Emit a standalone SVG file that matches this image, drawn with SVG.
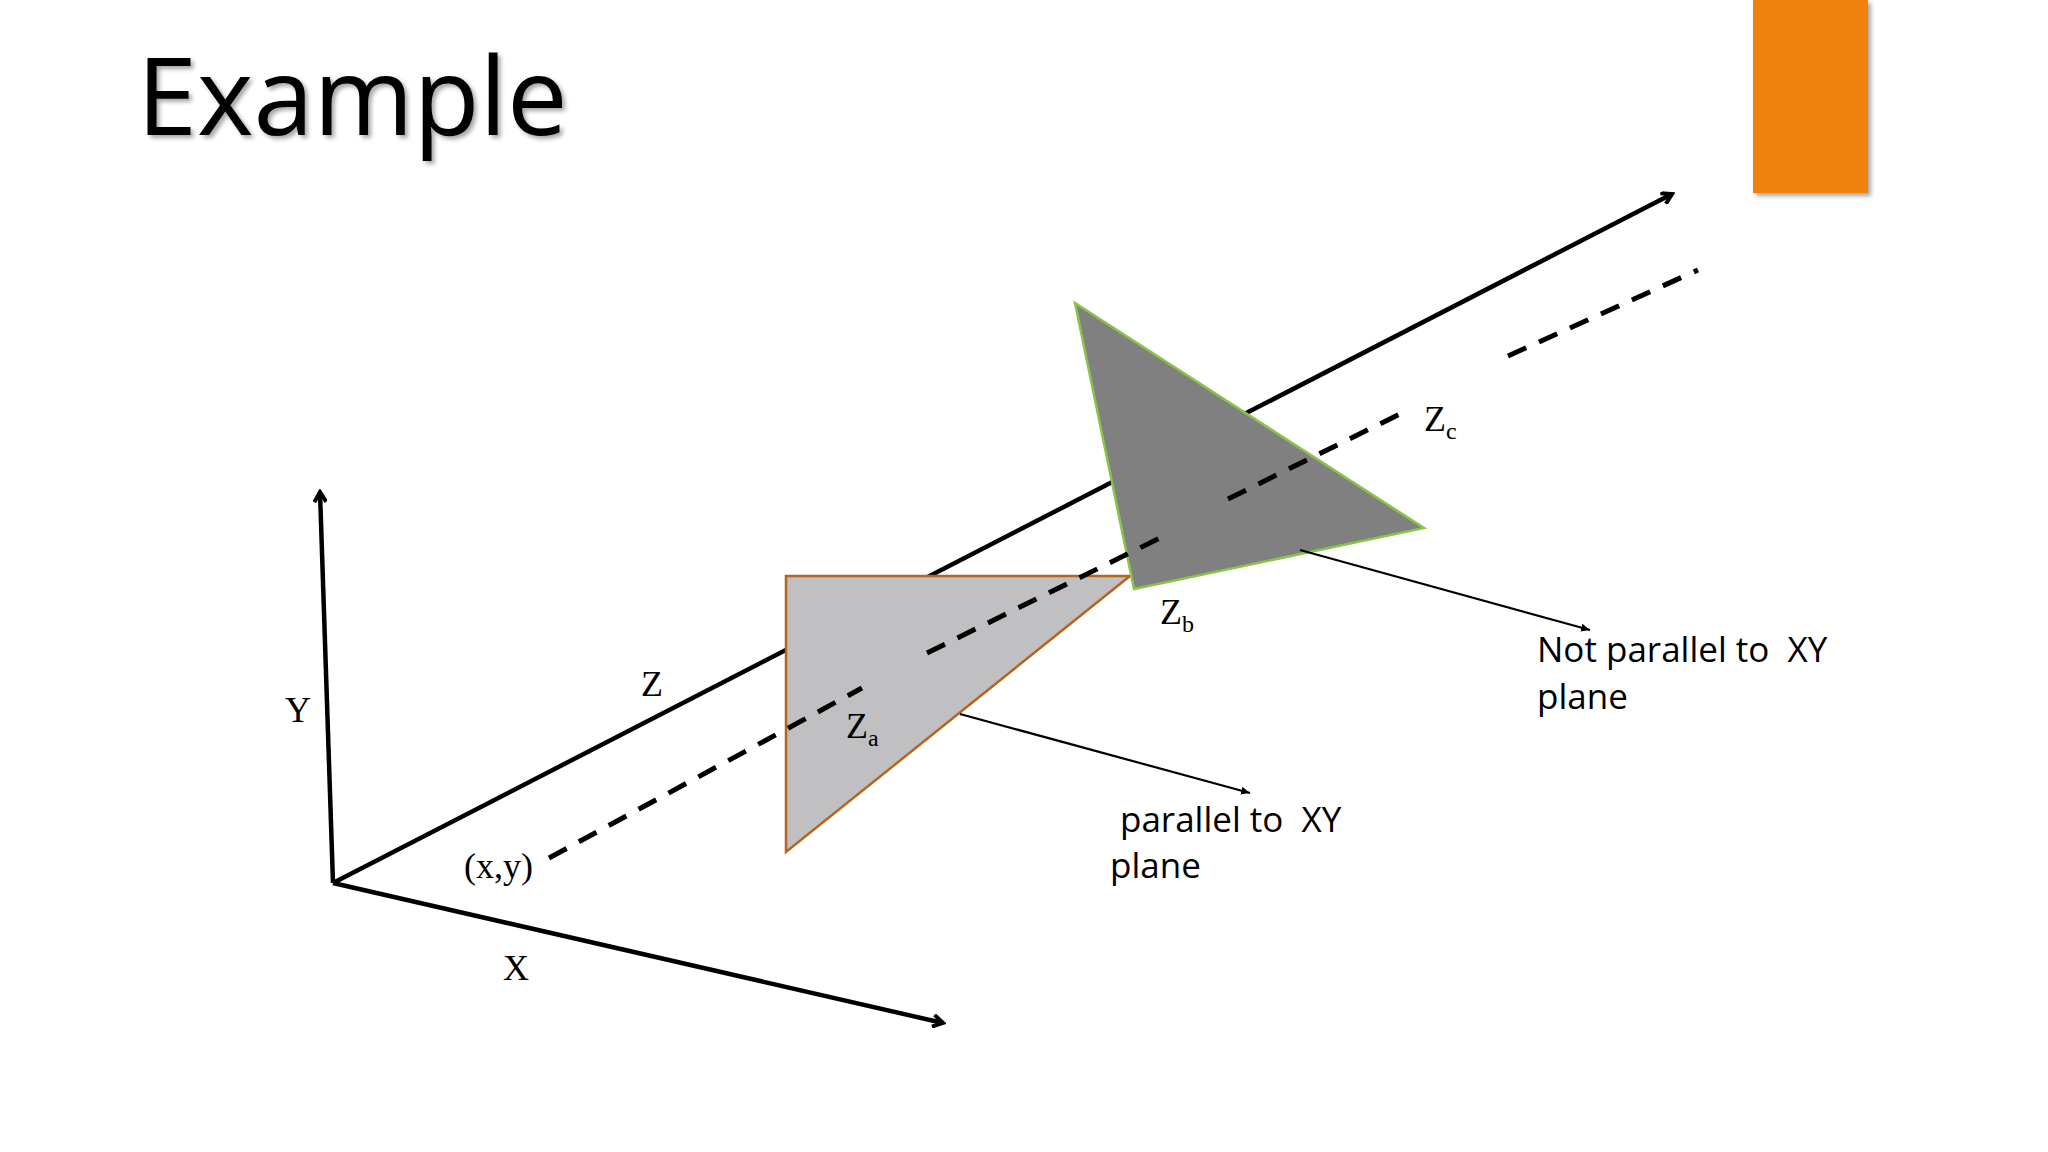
<svg xmlns="http://www.w3.org/2000/svg" width="2048" height="1152" viewBox="0 0 2048 1152">
<defs>
<marker id="ah" markerWidth="14" markerHeight="14" refX="11" refY="7" orient="auto" markerUnits="userSpaceOnUse"><polyline points="1,1 11,7 1,13" fill="none" stroke="#000" stroke-width="4"/></marker>
<marker id="sm" markerWidth="10" markerHeight="10" refX="9" refY="5" orient="auto" markerUnits="userSpaceOnUse"><path d="M0,1 L9,5 L0,9 Z" fill="#000"/></marker>
<filter id="sh"><feDropShadow dx="3" dy="3" stdDeviation="2" flood-opacity="0.35"/></filter>
</defs>
<style>
.ax{stroke:#000;stroke-width:4.5;fill:none}
.sf{font-family:"Liberation Serif",serif;font-size:36px;fill:#000}
.ss{font-family:"Open Sans","Noto Sans",sans-serif;font-size:35px;fill:#000}
.ld{stroke:#000;stroke-width:2.2;fill:none}
.ds{stroke:#000;stroke-width:5;stroke-dasharray:20 14;fill:none}
</style>
<rect width="2048" height="1152" fill="#fff"/>
<text x="137" y="135" font-family="'Open Sans','Noto Sans',sans-serif" font-size="108" filter="url(#sh)">Example</text>
<rect id="orange" x="1753" y="0" width="115" height="193" fill="#EE8210" filter="url(#sh)"/>
<g id="axes">
<line class="ax" x1="333" y1="883" x2="320" y2="492" marker-end="url(#ah)"/>
<line class="ax" x1="333" y1="883" x2="943" y2="1023" marker-end="url(#ah)"/>
<line class="ax" x1="333" y1="883" x2="1672" y2="194" marker-end="url(#ah)"/>
</g>
<g id="triA"><polygon points="786,576 1130,576 786,852" fill="#C0BFC2" stroke="#B5651D" stroke-width="2.5"/></g>
<g id="triB"><polygon points="1075,303 1424,528 1134,589" fill="#808080" stroke="#8BC34A" stroke-width="2.5"/></g>
<g id="connectors">
<line class="ds" x1="549" y1="858" x2="862" y2="688"/>
<line class="ds" x1="927" y1="653" x2="1170" y2="533"/>
<line class="ds" x1="1228" y1="499" x2="1410" y2="409"/>
<line class="ds" x1="1508" y1="356" x2="1698" y2="270"/>
<line class="ld" x1="960" y1="714" x2="1250" y2="793" marker-end="url(#sm)"/>
<line class="ld" x1="1300" y1="550" x2="1590" y2="630" marker-end="url(#sm)"/>
</g>
<g id="labels">
<text class="sf" x="285" y="722">Y</text>
<text class="sf" x="641" y="696">Z</text>
<text class="sf" x="503" y="980">X</text>
<text class="sf" x="464" y="878">(x,y)</text>
<text class="sf" x="846" y="738">Z<tspan font-size="24" dy="8">a</tspan></text>
<text class="sf" x="1160" y="624">Z<tspan font-size="24" dy="8">b</tspan></text>
<text class="sf" x="1424" y="431">Z<tspan font-size="24" dy="8">c</tspan></text>
<text class="ss" x="1120" y="832" xml:space="preserve">parallel to  XY</text>
<text class="ss" x="1110" y="878">plane</text>
<text class="ss" x="1537" y="662" xml:space="preserve">Not parallel to  XY</text>
<text class="ss" x="1537" y="709">plane</text>
</g>
</svg>
